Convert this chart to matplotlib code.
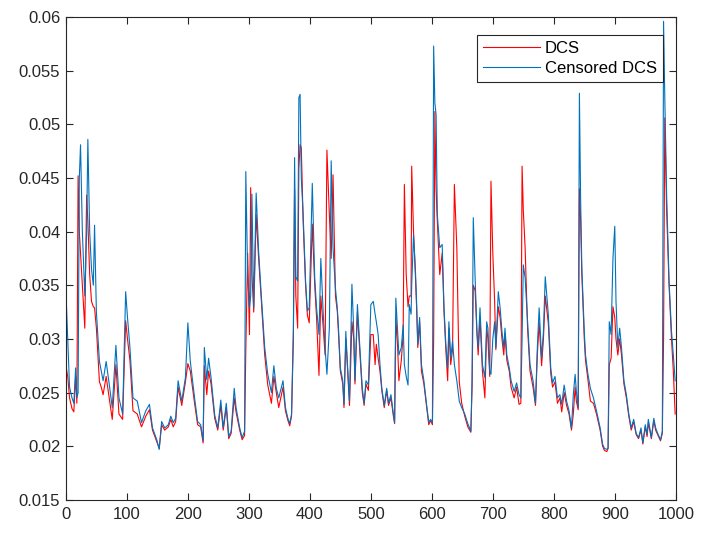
import matplotlib
matplotlib.use("Agg")
import matplotlib.pyplot as plt

# x positions (time index) and the two series
x = [0, 3, 6, 10, 13, 16, 18, 20, 22, 24, 27, 31, 34, 36, 39, 42, 45, 47, 50, 55,
     58, 61, 66, 71, 76, 82, 87, 93, 98, 101, 105, 110, 117, 124, 131, 137, 142, 149, 153, 157,
     162, 168, 172, 176, 180, 184, 190, 196, 200, 204, 211, 216, 221, 225, 227, 231, 234, 238, 244, 249,
     254, 258, 263, 267, 271, 276, 279, 285, 289, 293, 295, 298, 301, 303, 305, 308, 312, 316, 320, 326,
     331, 337, 341, 345, 349, 356, 360, 364, 367, 370, 373, 375, 377, 380, 382, 384, 386, 389, 393, 396,
     399, 404, 408, 411, 415, 418, 422, 425, 428, 432, 435, 438, 442, 445, 447, 450, 454, 456, 459, 462,
     465, 469, 472, 474, 478, 482, 486, 489, 492, 496, 500, 504, 507, 509, 512, 515, 518, 522, 526, 529,
     533, 537, 539, 541, 544, 546, 550, 553, 555, 558, 561, 563, 566, 567, 570, 573, 575, 577, 580, 583,
     587, 592, 595, 598, 601, 603, 605, 607, 609, 613, 617, 620, 623, 626, 628, 631, 634, 637, 641, 645,
     649, 654, 659, 664, 666, 668, 671, 674, 676, 679, 683, 687, 690, 692, 695, 697, 700, 703, 705, 709,
     712, 715, 718, 720, 723, 727, 730, 735, 739, 743, 746, 748, 750, 753, 757, 761, 766, 770, 773, 776,
     780, 783, 786, 791, 795, 798, 802, 806, 810, 813, 817, 821, 825, 829, 832, 835, 837, 840, 842, 844,
     846, 850, 852, 856, 860, 865, 870, 876, 880, 883, 887, 889, 891, 894, 897, 900, 902, 905, 908, 911,
     915, 919, 923, 927, 931, 935, 939, 943, 946, 950, 953, 955, 960, 964, 967, 971, 975, 978, 980, 982,
     985, 989, 993, 996, 999]

dcs = [0.0275, 0.0265, 0.0245, 0.0235, 0.0232, 0.0265, 0.0240, 0.0452, 0.0400, 0.0380, 0.0350, 0.0310, 0.0434, 0.0410, 0.0360, 0.0335, 0.0330, 0.0329, 0.0310, 0.0260,
       0.0255, 0.0248, 0.0265, 0.0245, 0.0225, 0.0276, 0.0230, 0.0225, 0.0317, 0.0300, 0.0280, 0.0233, 0.0230, 0.0218, 0.0228, 0.0234, 0.0215, 0.0204, 0.0198, 0.0220,
       0.0215, 0.0218, 0.0225, 0.0218, 0.0223, 0.0255, 0.0238, 0.0260, 0.0277, 0.0270, 0.0240, 0.0220, 0.0218, 0.0203, 0.0275, 0.0248, 0.0270, 0.0258, 0.0226, 0.0215,
       0.0238, 0.0215, 0.0236, 0.0207, 0.0212, 0.0245, 0.0232, 0.0215, 0.0206, 0.0210, 0.0290, 0.0380, 0.0304, 0.0441, 0.0360, 0.0325, 0.0416, 0.0375, 0.0340, 0.0285,
       0.0257, 0.0240, 0.0265, 0.0250, 0.0236, 0.0255, 0.0233, 0.0224, 0.0219, 0.0228, 0.0300, 0.0440, 0.0340, 0.0310, 0.0459, 0.0481, 0.0478, 0.0410, 0.0350, 0.0322,
       0.0315, 0.0407, 0.0350, 0.0320, 0.0266, 0.0340, 0.0310, 0.0285, 0.0476, 0.0416, 0.0375, 0.0453, 0.0340, 0.0326, 0.0305, 0.0270, 0.0258, 0.0236, 0.0300, 0.0270,
       0.0238, 0.0316, 0.0300, 0.0258, 0.0325, 0.0288, 0.0250, 0.0238, 0.0258, 0.0252, 0.0304, 0.0304, 0.0276, 0.0295, 0.0282, 0.0270, 0.0252, 0.0236, 0.0252, 0.0238,
       0.0245, 0.0228, 0.0221, 0.0320, 0.0292, 0.0261, 0.0280, 0.0305, 0.0444, 0.0360, 0.0330, 0.0340, 0.0340, 0.0461, 0.0400, 0.0360, 0.0330, 0.0292, 0.0316, 0.0270,
       0.0258, 0.0234, 0.0220, 0.0224, 0.0220, 0.0300, 0.0512, 0.0440, 0.0410, 0.0360, 0.0380, 0.0325, 0.0290, 0.0261, 0.0310, 0.0276, 0.0290, 0.0444, 0.0385, 0.0260,
       0.0240, 0.0228, 0.0218, 0.0213, 0.0255, 0.0350, 0.0345, 0.0305, 0.0285, 0.0320, 0.0270, 0.0245, 0.0310, 0.0300, 0.0265, 0.0447, 0.0380, 0.0335, 0.0290, 0.0330,
       0.0320, 0.0300, 0.0285, 0.0305, 0.0280, 0.0270, 0.0255, 0.0245, 0.0255, 0.0239, 0.0240, 0.0461, 0.0420, 0.0385, 0.0310, 0.0270, 0.0255, 0.0238, 0.0285, 0.0315,
       0.0275, 0.0300, 0.0340, 0.0315, 0.0268, 0.0255, 0.0260, 0.0240, 0.0245, 0.0232, 0.0250, 0.0238, 0.0230, 0.0215, 0.0230, 0.0255, 0.0242, 0.0234, 0.0440, 0.0410,
       0.0360, 0.0300, 0.0280, 0.0262, 0.0242, 0.0240, 0.0230, 0.0215, 0.0200, 0.0196, 0.0195, 0.0198, 0.0276, 0.0282, 0.0330, 0.0320, 0.0300, 0.0285, 0.0300, 0.0285,
       0.0258, 0.0245, 0.0228, 0.0215, 0.0223, 0.0211, 0.0207, 0.0215, 0.0202, 0.0218, 0.0209, 0.0222, 0.0207, 0.0224, 0.0215, 0.0210, 0.0205, 0.0212, 0.0300, 0.0506,
       0.0420, 0.0350, 0.0300, 0.0270, 0.0230]

censored = [0.0345, 0.0300, 0.0255, 0.0245, 0.0240, 0.0273, 0.0245, 0.0250, 0.0450, 0.0481, 0.0400, 0.0340, 0.0400, 0.0486, 0.0400, 0.0365, 0.0350, 0.0406, 0.0325, 0.0279,
            0.0270, 0.0261, 0.0279, 0.0258, 0.0236, 0.0294, 0.0245, 0.0230, 0.0344, 0.0320, 0.0292, 0.0245, 0.0242, 0.0222, 0.0233, 0.0239, 0.0217, 0.0206, 0.0197, 0.0223,
            0.0217, 0.0220, 0.0228, 0.0222, 0.0226, 0.0261, 0.0242, 0.0264, 0.0315, 0.0279, 0.0245, 0.0223, 0.0220, 0.0205, 0.0292, 0.0262, 0.0282, 0.0264, 0.0229, 0.0217,
            0.0243, 0.0217, 0.0240, 0.0209, 0.0214, 0.0254, 0.0236, 0.0217, 0.0208, 0.0214, 0.0456, 0.0360, 0.0329, 0.0340, 0.0435, 0.0329, 0.0436, 0.0382, 0.0344, 0.0292,
            0.0267, 0.0250, 0.0275, 0.0254, 0.0245, 0.0261, 0.0236, 0.0226, 0.0221, 0.0230, 0.0310, 0.0469, 0.0358, 0.0354, 0.0525, 0.0528, 0.0450, 0.0416, 0.0354, 0.0326,
            0.0329, 0.0445, 0.0357, 0.0329, 0.0304, 0.0375, 0.0323, 0.0292, 0.0267, 0.0310, 0.0466, 0.0385, 0.0347, 0.0329, 0.0310, 0.0273, 0.0261, 0.0239, 0.0307, 0.0273,
            0.0242, 0.0351, 0.0307, 0.0261, 0.0332, 0.0292, 0.0254, 0.0240, 0.0261, 0.0257, 0.0332, 0.0335, 0.0323, 0.0316, 0.0304, 0.0276, 0.0254, 0.0238, 0.0254, 0.0240,
            0.0248, 0.0230, 0.0222, 0.0338, 0.0307, 0.0285, 0.0292, 0.0313, 0.0276, 0.0265, 0.0257, 0.0332, 0.0323, 0.0350, 0.0397, 0.0366, 0.0335, 0.0295, 0.0320, 0.0276,
            0.0261, 0.0236, 0.0222, 0.0225, 0.0222, 0.0573, 0.0520, 0.0509, 0.0416, 0.0385, 0.0388, 0.0329, 0.0295, 0.0273, 0.0316, 0.0282, 0.0298, 0.0276, 0.0261, 0.0242,
            0.0236, 0.0230, 0.0221, 0.0214, 0.0261, 0.0413, 0.0357, 0.0307, 0.0292, 0.0329, 0.0276, 0.0264, 0.0316, 0.0310, 0.0270, 0.0267, 0.0300, 0.0316, 0.0292, 0.0344,
            0.0329, 0.0307, 0.0292, 0.0310, 0.0285, 0.0273, 0.0261, 0.0251, 0.0259, 0.0248, 0.0245, 0.0300, 0.0369, 0.0357, 0.0316, 0.0276, 0.0261, 0.0240, 0.0292, 0.0329,
            0.0282, 0.0307, 0.0358, 0.0323, 0.0273, 0.0259, 0.0265, 0.0245, 0.0248, 0.0239, 0.0257, 0.0242, 0.0233, 0.0217, 0.0248, 0.0267, 0.0251, 0.0236, 0.0529, 0.0430,
            0.0366, 0.0307, 0.0285, 0.0267, 0.0254, 0.0245, 0.0233, 0.0217, 0.0202, 0.0198, 0.0197, 0.0198, 0.0316, 0.0304, 0.0375, 0.0405, 0.0335, 0.0292, 0.0310, 0.0292,
            0.0261, 0.0248, 0.0230, 0.0217, 0.0225, 0.0212, 0.0208, 0.0217, 0.0203, 0.0220, 0.0211, 0.0225, 0.0208, 0.0226, 0.0217, 0.0211, 0.0206, 0.0214, 0.0596, 0.0525,
            0.0435, 0.0354, 0.0307, 0.0285, 0.0261]

series_labels = ["DCS", "Censored DCS"]
xticks = [0, 100, 200, 300, 400, 500, 600, 700, 800, 900, 1000]
yticks = [0.015, 0.02, 0.025, 0.03, 0.035, 0.04, 0.045, 0.05, 0.055, 0.06]
ytick_labels = ["0.015", "0.02", "0.025", "0.03", "0.035", "0.04", "0.045", "0.05", "0.055", "0.06"]

plt.rcParams['font.family'] = ['Liberation Sans', 'DejaVu Sans']

fig = plt.figure(figsize=(7.01, 5.34), dpi=100)
ax = fig.add_axes([0.094, 0.064, 0.870, 0.904])

axis_col = '#262626'
ax.plot(x, dcs, color='#FF0000', linewidth=0.8, label=series_labels[0])
ax.plot(x, censored, color='#0072BD', linewidth=0.8, label=series_labels[1])

ax.set_xlim(0, 1000)
ax.set_ylim(0.015, 0.06)
ax.set_xticks(xticks)
ax.set_xticklabels([str(t) for t in xticks])
ax.set_yticks(yticks)
ax.set_yticklabels(ytick_labels)

ax.tick_params(direction='in', length=5, width=0.8, colors=axis_col, labelsize=12,
               top=True, right=True, labelcolor=axis_col)
ax.tick_params(axis='x', pad=5)
ax.tick_params(axis='y', pad=4)
for sp in ax.spines.values():
    sp.set_color(axis_col)
    sp.set_linewidth(0.8)

leg = ax.legend(loc='upper right', bbox_to_anchor=(0.9787, 0.9627), borderaxespad=0,
                fontsize=12, frameon=True, fancybox=False, framealpha=1,
                edgecolor=axis_col, handlelength=3.4, handletextpad=0.3,
                labelspacing=0.3, borderpad=0.35)
leg.get_frame().set_linewidth(0.8)
for t in leg.get_texts():
    t.set_color('black')

fig.savefig('out.png', dpi=100)
